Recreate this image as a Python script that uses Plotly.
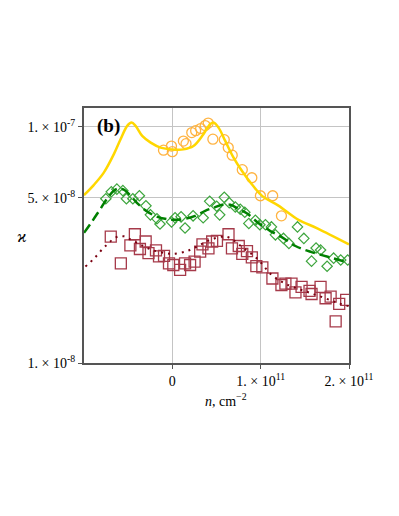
import plotly.graph_objects as go

# yellow fit curve and orange circles
n_fit1 = [-1.0e11, -0.89e11, -0.776e11, -0.663e11, -0.586e11, -0.511e11, -0.461e11,
          -0.416e11, -0.341e11, -0.245e11, -0.132e11, 0.0, 0.125e11, 0.239e11,
          0.352e11, 0.428e11, 0.466e11, 0.523e11, 0.599e11, 0.693e11, 0.789e11,
          0.902e11, 1.019e11, 1.201e11, 1.428e11, 1.641e11, 2.0e11]
k_fit1 = [5.14e-8, 5.67e-8, 6.40e-8, 7.65e-8, 8.86e-8, 1.01e-7, 1.043e-7,
          1.01e-7, 9.16e-8, 8.58e-8, 8.17e-8, 8.03e-8, 8.03e-8, 8.30e-8,
          9.31e-8, 1.026e-7, 1.043e-7, 9.93e-8, 8.72e-8, 7.41e-8, 6.50e-8,
          5.70e-8, 5.09e-8, 4.64e-8, 4.04e-8, 3.72e-8, 3.18e-8]
n_dat1 = [-0.10e11, -0.01e11, 0.0, 0.125e11, 0.155e11, 0.22e11, 0.264e11, 0.32e11,
          0.372e11, 0.406e11, 0.459e11, 0.588e11, 0.633e11, 0.678e11, 0.792e11,
          0.90e11, 0.997e11, 1.136e11, 1.235e11]
k_dat1 = [7.97e-8, 8.29e-8, 7.85e-8, 8.71e-8, 8.49e-8, 9.46e-8, 9.64e-8, 9.84e-8,
          1.013e-7, 1.038e-7, 8.87e-8, 8.83e-8, 8.17e-8, 7.59e-8, 6.59e-8,
          6.09e-8, 5.11e-8, 5.11e-8, 4.20e-8]

# green dashed curve and diamonds
n_fit2 = [-1.0e11, -0.912e11, -0.822e11, -0.731e11, -0.663e11, -0.617e11, -0.549e11,
          -0.481e11, -0.401e11, -0.31e11, -0.197e11, -0.083e11, 0.008e11, 0.144e11,
          0.258e11, 0.372e11, 0.462e11, 0.565e11, 0.656e11, 0.747e11, 0.838e11,
          0.974e11, 1.11e11, 1.224e11, 1.394e11, 1.576e11, 1.803e11, 1.996e11]
k_fit2 = [3.56e-8, 3.96e-8, 4.45e-8, 5.01e-8, 5.36e-8, 5.47e-8, 5.42e-8,
          5.15e-8, 4.77e-8, 4.45e-8, 4.20e-8, 4.08e-8, 4.04e-8, 4.08e-8,
          4.20e-8, 4.41e-8, 4.54e-8, 4.68e-8, 4.68e-8, 4.50e-8, 4.32e-8,
          3.92e-8, 3.62e-8, 3.44e-8, 3.13e-8, 2.95e-8, 2.79e-8, 2.66e-8]
n_dat2 = [-0.753e11, -0.691e11, -0.628e11, -0.56e11, -0.52e11, -0.447e11, -0.373e11,
          -0.299e11, -0.248e11, -0.174e11, -0.14e11, -0.009e11, 0.031e11, 0.099e11,
          0.144e11, 0.235e11, 0.349e11, 0.423e11, 0.502e11, 0.536e11, 0.588e11,
          0.644e11, 0.713e11, 0.769e11, 0.82e11, 0.866e11, 0.94e11, 0.991e11,
          1.054e11, 1.122e11, 1.167e11, 1.258e11, 1.32e11, 1.417e11, 1.489e11,
          1.576e11, 1.627e11, 1.678e11, 1.752e11, 1.826e11, 1.906e11, 1.985e11]
k_dat2 = [4.96e-8, 5.31e-8, 5.45e-8, 5.37e-8, 4.96e-8, 4.96e-8, 5.11e-8,
          4.63e-8, 4.24e-8, 4.08e-8, 3.88e-8, 3.96e-8, 4.12e-8, 4.16e-8,
          3.73e-8, 4.20e-8, 4.12e-8, 4.84e-8, 4.61e-8, 4.24e-8, 5.03e-8,
          4.77e-8, 4.58e-8, 4.48e-8, 4.35e-8, 3.90e-8, 4.02e-8, 3.85e-8,
          3.85e-8, 3.77e-8, 3.49e-8, 3.37e-8, 3.21e-8, 3.77e-8, 3.37e-8,
          2.70e-8, 3.07e-8, 3.01e-8, 2.57e-8, 2.78e-8, 2.73e-8, 2.73e-8]

# maroon dotted curve and squares
n_fit3 = [-0.984e11, -0.878e11, -0.784e11, -0.731e11, -0.674e11, -0.614e11, -0.549e11,
          -0.481e11, -0.352e11, -0.227e11, -0.075e11, 0.008e11, 0.144e11, 0.277e11,
          0.428e11, 0.58e11, 0.656e11, 0.807e11, 0.959e11, 1.125e11, 1.277e11,
          1.428e11, 1.58e11, 1.732e11, 1.883e11, 1.997e11]
k_fit3 = [2.56e-8, 2.79e-8, 3.06e-8, 3.19e-8, 3.34e-8, 3.43e-8, 3.44e-8,
          3.35e-8, 3.16e-8, 3.01e-8, 2.92e-8, 2.90e-8, 2.96e-8, 3.11e-8,
          3.32e-8, 3.43e-8, 3.38e-8, 3.06e-8, 2.77e-8, 2.36e-8, 2.17e-8,
          2.06e-8, 1.97e-8, 1.88e-8, 1.79e-8, 1.74e-8]
n_dat3 = [-0.697e11, -0.583e11, -0.475e11, -0.424e11, -0.367e11, -0.302e11, -0.27e11,
          -0.185e11, -0.151e11, -0.094e11, -0.038e11, 0.011e11, 0.088e11, 0.144e11,
          0.201e11, 0.252e11, 0.315e11, 0.341e11, 0.409e11, 0.451e11, 0.505e11,
          0.636e11, 0.675e11, 0.752e11, 0.792e11, 0.845e11, 0.9e11, 0.951e11,
          1.019e11, 1.133e11, 1.235e11, 1.28e11, 1.349e11, 1.394e11, 1.463e11,
          1.553e11, 1.576e11, 1.678e11, 1.735e11, 1.792e11, 1.849e11, 1.889e11, 1.968e11]
k_dat3 = [3.43e-8, 2.64e-8, 3.15e-8, 3.51e-8, 3.04e-8, 3.27e-8, 2.92e-8,
          3.00e-8, 2.83e-8, 2.84e-8, 2.64e-8, 2.60e-8, 2.48e-8, 2.64e-8,
          2.60e-8, 2.69e-8, 2.96e-8, 3.18e-8, 3.06e-8, 3.27e-8, 3.29e-8,
          3.51e-8, 3.06e-8, 3.13e-8, 2.90e-8, 2.98e-8, 2.80e-8, 2.57e-8,
          2.54e-8, 2.28e-8, 2.14e-8, 2.17e-8, 2.17e-8, 1.99e-8, 2.10e-8,
          2.02e-8, 1.96e-8, 2.10e-8, 1.88e-8, 1.91e-8, 1.50e-8, 1.78e-8, 1.85e-8]

x_ticks = [0, 1e11, 2e11]
x_ticktext = ['0', '1. × 10<sup>11</sup>', '2. × 10<sup>11</sup>']
y_ticks = [1e-8, 5e-8, 1e-7]
y_ticktext = ['1. × 10<sup>-8</sup>', '5. × 10<sup>-8</sup>', '1. × 10<sup>-7</sup>']

fig = go.Figure()

fig.add_trace(go.Scatter(x=n_dat1, y=k_dat1, mode='markers',
                         marker=dict(symbol='circle-open', size=10, color='#FFB340',
                                     line=dict(width=1.3))))
fig.add_trace(go.Scatter(x=n_dat2, y=k_dat2, mode='markers',
                         marker=dict(symbol='diamond-open', size=8, color='#3DA53D',
                                     line=dict(width=1.2))))
fig.add_trace(go.Scatter(x=n_dat3, y=k_dat3, mode='markers',
                         marker=dict(symbol='square-open', size=11, color='#A63A4A',
                                     line=dict(width=1.3))))

fig.add_trace(go.Scatter(x=n_fit1, y=k_fit1, mode='lines',
                         line=dict(color='#FFD700', width=2.5, shape='spline')))
fig.add_trace(go.Scatter(x=n_fit2, y=k_fit2, mode='lines',
                         line=dict(color='#008000', width=2.5, shape='spline',
                                   dash='10px,5px')))
fig.add_trace(go.Scatter(x=n_fit3, y=k_fit3, mode='lines',
                         line=dict(color='#7A0010', width=2, shape='spline',
                                   dash='2px,5px')))

# the page body adds an 8px offset, so the figure is sized to compensate
fig.update_layout(
    width=383, height=500,
    margin=dict(l=76, r=42, t=100, b=145),
    paper_bgcolor='white', plot_bgcolor='white',
    showlegend=False,
    font=dict(family='Liberation Serif', size=14, color='black'),
    annotations=[
        dict(text='<b>(b)</b>', x=0.093, y=0.928, xref='paper', yref='paper',
             xanchor='center', yanchor='middle',
             showarrow=False, font=dict(size=19, family='Liberation Serif')),
        dict(text='<i>ϰ</i>', x=-0.234, y=0.498, xref='paper', yref='paper',
             xanchor='center', yanchor='middle',
             showarrow=False, font=dict(size=17, family='Liberation Serif')),
        dict(text='<i>n</i>, cm<sup>−2</sup>', x=0.536, y=-0.145, xref='paper',
             yref='paper', xanchor='center', yanchor='middle',
             showarrow=False, font=dict(size=14, family='Liberation Serif')),
    ],
)
fig.update_xaxes(
    range=[-1e11, 2e11], tickvals=x_ticks, ticktext=x_ticktext,
    showgrid=True, gridcolor='#c4c4c4', gridwidth=1,
    showline=True, linecolor='#555555', linewidth=2, mirror=True,
    ticks='outside', ticklen=4, tickcolor='#555555', zeroline=False,
)
fig.update_yaxes(
    type='log', range=[-8, -6.92], tickvals=y_ticks, ticktext=y_ticktext,
    showgrid=True, gridcolor='#c4c4c4', gridwidth=1,
    showline=True, linecolor='#555555', linewidth=2, mirror=True,
    ticks='outside', ticklen=4, tickcolor='#555555', zeroline=False,
)

fig.write_html("out.html")
